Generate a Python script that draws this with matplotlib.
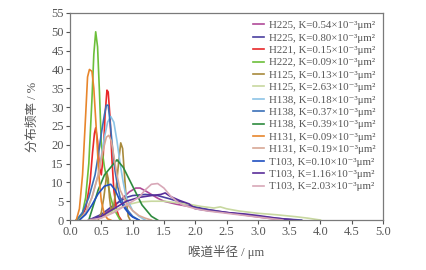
import matplotlib
matplotlib.use("Agg")
import matplotlib.pyplot as plt

plt.rcParams['font.family'] = ['Liberation Serif', 'Noto Sans CJK SC', 'DejaVu Serif']

# ---- dados ----
labels = [
    "H225", "H225", "H221", "H222", "H125", "H125", "H138",
    "H138", "H138", "H131", "H131", "T103", "T103", "T103",
]
perm = ["0.54", "0.80", "0.15", "0.09", "0.13", "2.63", "0.18",
        "0.37", "0.39", "0.09", "0.19", "0.10", "1.16", "2.03"]
cores = ["#b04a98", "#4a3fa0", "#e8282a", "#6cbf3a", "#a88a3c", "#c8d8a0", "#8cc4e6",
         "#3a6fb8", "#2e8b3e", "#e8862c", "#d8a896", "#1f4fc0", "#5a2e9a", "#d8a8b8"]

x_h225a = [0.3, 0.5, 0.7, 0.85, 0.95, 1.05, 1.12, 1.2, 1.3, 1.4, 1.5, 1.7, 1.9, 2.1, 2.3, 2.5, 2.8, 3.1, 3.4]
y_h225a = [0, 1, 3.5, 6, 7.5, 8.5, 8.5, 7.8, 6.8, 5.8, 5.0, 4.2, 3.6, 3.0, 2.5, 2.0, 1.3, 0.6, 0]

x_h225b = [0.3, 0.5, 0.7, 0.9, 1.0, 1.2, 1.4, 1.6, 1.8, 2.0, 2.2, 2.5, 2.8, 3.1, 3.4, 3.7]
y_h225b = [0, 1.5, 4, 6, 6.5, 6.8, 6.5, 5.6, 4.6, 3.5, 2.8, 2.0, 1.4, 0.8, 0.3, 0]

x_h221 = [0.15, 0.25, 0.32, 0.36, 0.39, 0.41, 0.44, 0.47, 0.50, 0.53, 0.56, 0.59, 0.61, 0.64, 0.67, 0.70, 0.74, 0.78, 0.82]
y_h221 = [0, 3, 10, 18, 23, 24.5, 21, 14, 12, 17, 28, 34.5, 34, 27, 16, 8, 3, 1, 0]

x_h222 = [0.10, 0.15, 0.20, 0.25, 0.30, 0.35, 0.38, 0.41, 0.44, 0.47, 0.50, 0.55, 0.60, 0.65, 0.70, 0.80]
y_h222 = [0, 0.5, 2, 6, 15, 32, 44, 50, 46, 34, 20, 14, 10, 6, 3, 0]

x_h125a = [0.45, 0.50, 0.54, 0.57, 0.59, 0.61, 0.63, 0.66, 0.70, 0.74, 0.78, 0.81, 0.84, 0.87, 0.90, 0.93, 0.96]
y_h125a = [0, 2, 6, 10, 12.5, 11, 6, 2, 4, 9, 16, 20.5, 19, 12, 5, 1, 0]

x_h125b = [0.3, 0.5, 0.7, 0.9, 1.1, 1.3, 1.5, 1.7, 1.9, 2.1, 2.3, 2.4, 2.5, 2.7, 3.0, 3.3, 3.6, 3.8, 4.0]
y_h125b = [0, 0.8, 2.5, 4, 4.8, 5.0, 5.0, 4.6, 4.2, 3.6, 3.2, 3.5, 3.0, 2.4, 1.8, 1.4, 0.9, 0.5, 0]

x_h138a = [0.15, 0.25, 0.35, 0.45, 0.55, 0.60, 0.65, 0.70, 0.75, 0.80, 0.85, 0.9, 1.0, 1.1, 1.2]
y_h138a = [0, 2, 6, 12, 22, 26, 27.5, 26, 21, 15, 10, 6, 2.5, 1, 0]

x_h138b = [0.10, 0.2, 0.3, 0.4, 0.45, 0.5, 0.55, 0.58, 0.61, 0.64, 0.68, 0.72, 0.76, 0.80, 0.85, 0.9, 0.95, 1.0, 1.1]
y_h138b = [0, 2, 6, 12, 17, 23, 28, 30.5, 30.5, 26, 19, 13, 9, 6, 4.5, 3, 2, 1, 0]

x_h138c = [0.3, 0.45, 0.55, 0.65, 0.75, 0.85, 1.0, 1.15, 1.3, 1.4]
y_h138c = [0, 8, 12, 14, 16, 14, 9, 4, 1, 0]

x_h131a = [0.10, 0.15, 0.20, 0.25, 0.28, 0.31, 0.35, 0.38, 0.42, 0.46, 0.50, 0.55, 0.60, 0.65]
y_h131a = [0, 3, 12, 28, 38, 40, 39.5, 35, 24, 12, 5, 1.5, 0.3, 0]

x_h131b = [0.15, 0.25, 0.35, 0.45, 0.52, 0.58, 0.62, 0.66, 0.70, 0.75, 0.80, 0.9, 1.0, 1.1, 1.2, 1.3]
y_h131b = [0, 2, 6, 12, 18, 22, 22.5, 21, 17, 12, 8, 4.5, 2.5, 1.2, 0.5, 0]

x_t103a = [0.15, 0.25, 0.35, 0.45, 0.55, 0.65, 0.72, 0.80, 0.88, 0.95, 1.0, 1.1]
y_t103a = [0, 1.5, 4, 7, 9, 9.5, 8, 5, 3, 1.5, 0.8, 0]

x_t103b = [0.3, 0.5, 0.7, 0.9, 1.1, 1.3, 1.45, 1.52, 1.6, 1.75, 1.9, 2.0, 2.2, 2.5, 2.8, 3.0, 3.3, 3.6]
y_t103b = [0, 1, 3, 5, 6, 6.5, 6.8, 7.2, 6.3, 5.2, 4.3, 3.0, 2.5, 2.0, 1.6, 1.2, 0.5, 0]

x_t103c = [0.3, 0.5, 0.7, 0.9, 1.0, 1.1, 1.2, 1.3, 1.4, 1.5, 1.6, 1.7, 1.8, 2.0, 2.2, 2.5, 2.8, 3.1, 3.4]
y_t103c = [0, 0.5, 2, 4, 5, 6, 8, 9.5, 9.7, 8.5, 6.5, 5, 4, 3, 2.4, 1.8, 1.2, 0.6, 0]

xs = [x_h225a, x_h225b, x_h221, x_h222, x_h125a, x_h125b, x_h138a,
      x_h138b, x_h138c, x_h131a, x_h131b, x_t103a, x_t103b, x_t103c]
ys = [y_h225a, y_h225b, y_h221, y_h222, y_h125a, y_h125b, y_h138a,
      y_h138b, y_h138c, y_h131a, y_h131b, y_t103a, y_t103b, y_t103c]

# ---- grafico ----
fig = plt.figure(figsize=(4.27, 2.70), dpi=100)
ax = fig.add_axes([0.164, 0.185, 0.733, 0.767])

for i in range(len(xs)):
    rot = labels[i] + ", K=" + perm[i] + "×10⁻³μm²"
    ax.plot(xs[i], ys[i], color=cores[i], lw=1.2, label=rot)

ax.set_xlim(0, 5)
ax.set_ylim(0, 55)
ax.set_xticks([0, 0.5, 1, 1.5, 2, 2.5, 3, 3.5, 4, 4.5, 5])
ax.set_xticklabels([f"{v:.1f}" for v in ax.get_xticks()])
ax.set_yticks(range(0, 56, 5))

for s in ax.spines.values():
    s.set_color("#7a7a7a")
    s.set_linewidth(0.9)
ax.tick_params(colors="#555555", labelsize=9, length=3, width=0.8, pad=1.5)

ax.set_ylabel("分布频率 / %", color="#555555", fontsize=9, labelpad=9)
ax.set_xlabel("喉道半径 / μm", color="#555555", fontsize=9, labelpad=5)

leg = ax.legend(loc="upper right", frameon=False, fontsize=7.8, handlelength=1.1,
                handletextpad=0.4, labelspacing=0.26, borderaxespad=0.3)
for t in leg.get_texts():
    t.set_color("#555555")

plt.savefig("out.png", dpi=100)
